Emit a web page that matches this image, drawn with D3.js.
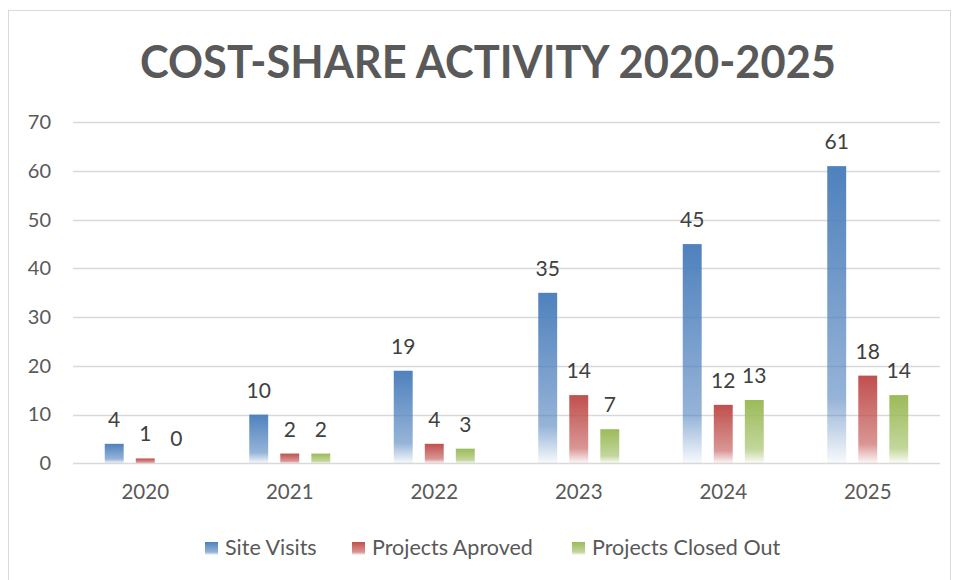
<!DOCTYPE html>
<html>
<head>
<meta charset="utf-8">
<script src="https://cdn.jsdelivr.net/npm/d3@7"></script>
<style>
  body { margin: 0; background: #fff; }
  text { font-family: Lato, "Open Sans", sans-serif; }
</style>
</head>
<body>
<svg id="chart" width="956" height="580"></svg>
<script>
// chart data
var years = ['2020', '2021', '2022', '2023', '2024', '2025'];
var seriesNames = ['Site Visits', 'Projects Aproved', 'Projects Closed Out'];
var siteVisits = [4, 10, 19, 35, 45, 61];
var projectsApproved = [1, 2, 4, 14, 12, 18];
var projectsClosed = [0, 2, 3, 7, 13, 14];
var yTicks = [0, 10, 20, 30, 40, 50, 60, 70];

var colors = ['#4F81BD', '#C0504D', '#9BBB59'];
var allSeries = [siteVisits, projectsApproved, projectsClosed];

const width = 956, height = 580;
const plotLeft = 73, plotRight = 940, plotTop = 122.3, plotBottom = 463.3;

const svg = d3.select('#chart');

svg.append('rect')
    .attr('width', width).attr('height', height)
    .attr('fill', '#fff');

// outer chart frame
svg.append('rect')
    .attr('x', 8.5).attr('y', 10.5)
    .attr('width', 942).attr('height', 600)
    .attr('fill', 'none')
    .attr('stroke', '#d9d9d9');

// gradients, one per series
var defs = svg.append('defs');
colors.forEach(function (c, i) {
    var g = defs.append('linearGradient')
        .attr('id', 'grad' + i)
        .attr('x1', 0).attr('y1', 0).attr('x2', 0).attr('y2', 1);
    g.append('stop').attr('offset', '0%').attr('stop-color', c).attr('stop-opacity', 1);
    g.append('stop').attr('offset', '78%').attr('stop-color', c).attr('stop-opacity', 0.6);
    g.append('stop').attr('offset', '100%').attr('stop-color', c).attr('stop-opacity', 0.04);
});

// title
svg.append('text')
    .attr('x', 488).attr('y', 78)
    .attr('text-anchor', 'middle')
    .attr('font-size', 46)
    .attr('font-weight', 'bold')
    .attr('fill', '#595959')
    .attr('textLength', 696)
    .attr('lengthAdjust', 'spacingAndGlyphs')
    .text('COST-SHARE ACTIVITY 2020-2025');

var x = d3.scaleBand().domain(years).range([plotLeft, plotRight]);
var y = d3.scaleLinear().domain([0, 70]).range([plotBottom, plotTop]);

// gridlines
svg.append('g')
    .selectAll('line')
    .data(yTicks)
    .join('line')
    .attr('x1', plotLeft).attr('x2', plotRight)
    .attr('y1', d => Math.round(y(d)) + 0.5)
    .attr('y2', d => Math.round(y(d)) + 0.5)
    .attr('stroke', '#d9d9d9')
    .attr('stroke-width', 1.3);

// y axis labels
var yAxis = svg.append('g')
    .attr('transform', `translate(${plotLeft},0)`)
    .call(d3.axisLeft(y).tickValues(yTicks).tickSize(0).tickPadding(22));
yAxis.select('.domain').remove();
yAxis.selectAll('text')
    .attr('font-size', 20)
    .attr('fill', '#595959')
    .style('font-family', 'Lato, sans-serif');

// x axis labels
var xAxis = svg.append('g')
    .attr('transform', `translate(0,${plotBottom})`)
    .call(d3.axisBottom(x).tickSize(0).tickPadding(21));
xAxis.select('.domain').remove();
xAxis.selectAll('text')
    .attr('font-size', 20.5)
    .attr('fill', '#595959')
    .style('font-family', 'Lato, sans-serif');

// bars
var inner = d3.scaleBand().domain([0, 1, 2]).range([-40.5, 40.5]).paddingInner(0.39);

allSeries.forEach(function (vals, s) {
    var g = svg.append('g');
    g.selectAll('rect')
        .data(vals)
        .join('rect')
        .attr('x', (d, i) => x(years[i]) + x.bandwidth() / 2 + inner(s))
        .attr('y', d => y(d))
        .attr('width', inner.bandwidth())
        .attr('height', d => plotBottom - y(d))
        .attr('fill', 'url(#grad' + s + ')');
    g.selectAll('text')
        .data(vals)
        .join('text')
        .attr('x', (d, i) => x(years[i]) + x.bandwidth() / 2 + inner(s) + inner.bandwidth() / 2)
        .attr('y', d => y(d) - 17)
        .attr('text-anchor', 'middle')
        .attr('font-size', 21)
        .attr('fill', '#404040')
        .text(d => d);
});

// legend
var legendX = [205, 352, 572];
var legend = svg.append('g');
seriesNames.forEach(function (name, i) {
    legend.append('rect')
        .attr('x', legendX[i]).attr('y', 542)
        .attr('width', 13).attr('height', 13)
        .attr('fill', 'url(#grad' + i + ')');
    legend.append('text')
        .attr('x', legendX[i] + 20).attr('y', 555)
        .attr('font-size', 21.5)
        .attr('fill', '#595959')
        .text(name);
});
</script>
</body>
</html>
